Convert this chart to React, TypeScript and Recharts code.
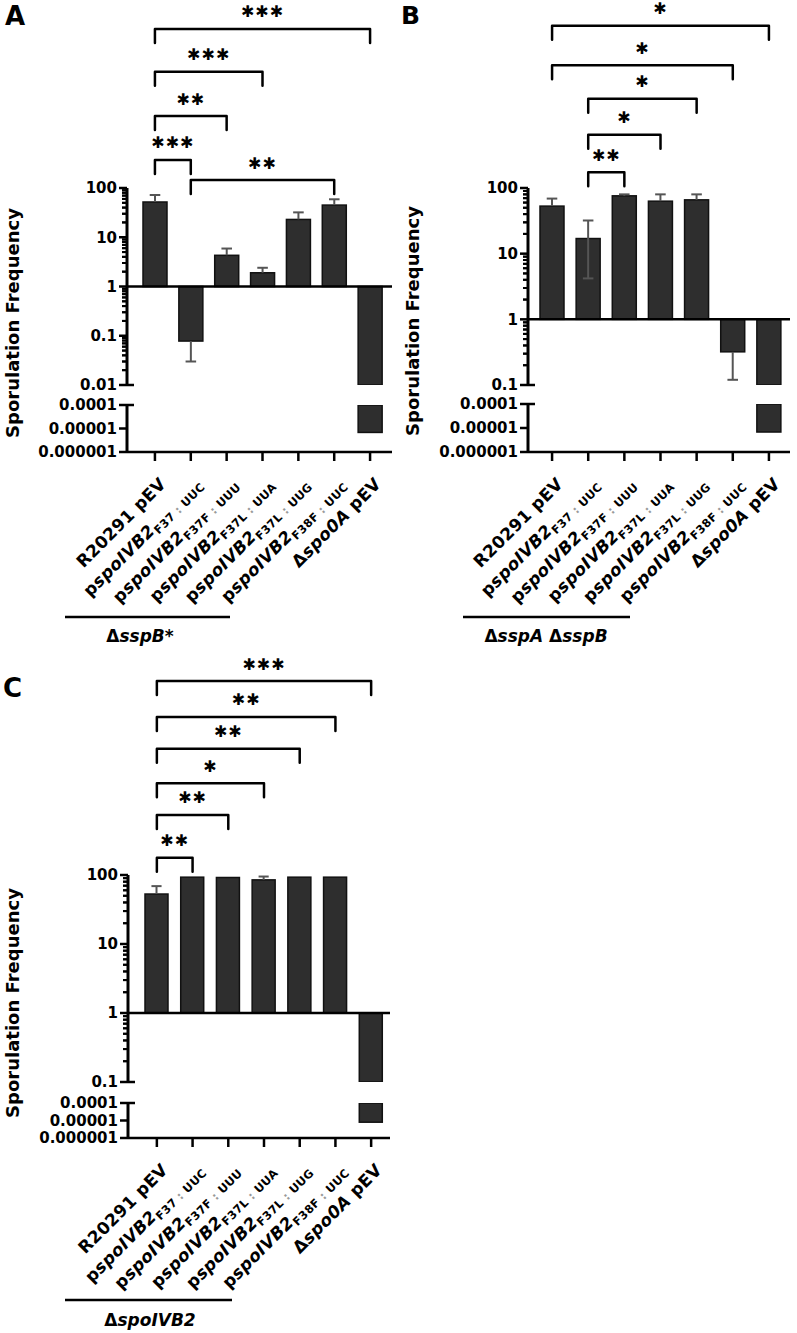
import React from 'react';
import { BarChart, Bar, XAxis, YAxis, ReferenceLine } from 'recharts';

const FONT = "'DejaVu Sans', 'Open Sans', sans-serif";

// ---- categories / tick labels ----
const categoryKeys = ['wt', 'f37uuc', 'f37fuuu', 'f37luua', 'f37luug', 'f38fuuc', 'spo0a'];
const labelPlain = ['R20291 pEV', 'p', 'p', 'p', 'p', 'p', 'Δ'];
const labelItalic = ['', 'spoIVB2', 'spoIVB2', 'spoIVB2', 'spoIVB2', 'spoIVB2', 'spo0A'];
const labelSubVariant = ['', 'F37', 'F37F', 'F37L', 'F37L', 'F38F', ''];
const labelSubCodon = ['', 'UUC', 'UUU', 'UUA', 'UUG', 'UUC', ''];
const labelSuffix = ['', '', '', '', '', '', ' pEV'];

// ---- series values (sporulation frequency) ----
const valuesA = [52, 0.078, 4.3, 1.9, 23, 45, 0.0000068];
const errHighA: (number | null)[] = [72, null, 5.9, 2.4, 32, 59, null];
const errLowA: (number | null)[] = [null, 0.03, null, null, null, null, null];

const valuesB = [53, 17, 76, 63, 66, 0.32, 0.0000068];
const errHighB: (number | null)[] = [69, 32, 80, 80, 80, null, null];
const errLowB: (number | null)[] = [null, 4.2, null, null, null, 0.12, null];

const valuesC = [53, 93, 92, 85, 93, 93, 0.000008];
const errHighC: (number | null)[] = [69, null, null, 95, null, null, null];
const errLowC: (number | null)[] = [null, null, null, null, null, null, null];

// ---- y ticks ----
const upperTicksA = [100, 10, 1, 0.1, 0.01];
const upperTickLabelsA = ['100', '10', '1', '0.1', '0.01'];
const upperTicksBC = [100, 10, 1, 0.1];
const upperTickLabelsBC = ['100', '10', '1', '0.1'];
const lowerTicks = [0.0001, 0.00001, 0.000001];
const lowerTickLabels = ['0.0001', '0.00001', '0.000001'];
const minorMultipliers = [2, 3, 4, 5, 6, 7, 8, 9];

// ---- significance brackets (level = log10 of frequency position) ----
type Bracket = { from: number; to: number; level: number; stars: string };
const bracketsA: Bracket[] = [
  { from: 0, to: 6, level: 5.23, stars: '***' },
  { from: 0, to: 3, level: 4.36, stars: '***' },
  { from: 0, to: 2, level: 3.46, stars: '**' },
  { from: 0, to: 1, level: 2.57, stars: '***' },
  { from: 1, to: 5, level: 2.16, stars: '**' },
];
const bracketsB: Bracket[] = [
  { from: 0, to: 6, level: 4.47, stars: '*' },
  { from: 0, to: 5, level: 3.87, stars: '*' },
  { from: 1, to: 4, level: 3.36, stars: '*' },
  { from: 1, to: 3, level: 2.81, stars: '*' },
  { from: 1, to: 2, level: 2.24, stars: '**' },
];
const bracketsC: Bracket[] = [
  { from: 0, to: 6, level: 4.81, stars: '***' },
  { from: 0, to: 5, level: 4.29, stars: '**' },
  { from: 0, to: 4, level: 3.83, stars: '**' },
  { from: 0, to: 3, level: 3.33, stars: '*' },
  { from: 0, to: 2, level: 2.87, stars: '**' },
  { from: 0, to: 1, level: 2.25, stars: '**' },
];

type Layout = {
  left: number; width: number; yAxisWidth: number; rightMargin: number;
  padL: number; padR: number; upperChartTop: number; upperPlotTop: number;
  upperPlotBottom: number; lowerPlotTop: number; lowerPlotBottom: number; barSize: number;
};

const layoutA: Layout = { left: 0, width: 400, yAxisWidth: 127, rightMargin: 8, padL: 10, padR: 4, upperChartTop: 0, upperPlotTop: 188, upperPlotBottom: 385, lowerPlotTop: 405, lowerPlotBottom: 452, barSize: 24 };
const layoutB: Layout = { left: 400, width: 397, yAxisWidth: 128, rightMargin: 7, padL: 6, padR: 3, upperChartTop: 0, upperPlotTop: 188, upperPlotBottom: 385, lowerPlotTop: 404, lowerPlotBottom: 452, barSize: 24 };
const layoutC: Layout = { left: 0, width: 400, yAxisWidth: 128, rightMargin: 10, padL: 11, padR: 1, upperChartTop: 640, upperPlotTop: 875, upperPlotBottom: 1082, lowerPlotTop: 1103, lowerPlotBottom: 1138, barSize: 23 };

const XAXIS_H = 165;
const TICK_SIZE = 8;
const TICK_MARGIN = 3;

const BarShape = (p: any) => {
  const { x, y, width, height } = p;
  if (!height || !isFinite(height)) return <g />;
  const top = Math.min(y, y + height);
  const h = Math.abs(height);
  return <rect x={x} y={top} width={width} height={h} fill="#2e2e2e" stroke="#111" strokeWidth={1.5} />;
};

const ErrShape = (p: any) => {
  const { x, y, width, height, payload } = p;
  if (!payload || (!payload.hasHi && !payload.hasLo)) return <g />;
  const cx = x + width / 2;
  const top = Math.min(y, y + height);
  const bot = Math.max(y, y + height);
  const cw = width * 0.22;
  return (
    <g stroke="#555" strokeWidth={2} fill="none">
      <line x1={cx} x2={cx} y1={top} y2={bot} />
      {payload.hasHi && <line x1={cx - cw} x2={cx + cw} y1={top} y2={top} />}
      {payload.hasLo && <line x1={cx - cw} x2={cx + cw} y1={bot} y2={bot} />}
    </g>
  );
};

const makeBracketShape = (stars: string) => (p: any) => {
  const { x1, y1, x2, y2 } = p;
  const drop = 14;
  return (
    <g>
      <path d={`M${x1},${y1 + drop}L${x1},${y1}L${x2},${y2}L${x2},${y2 + drop}`} fill="none" stroke="#000" strokeWidth={2.5} strokeLinejoin="round" strokeLinecap="round" />
      <text x={(x1 + x2) / 2} y={y1 - 17} textAnchor="middle" dominantBaseline="central" fontFamily={FONT} fontWeight="bold" fontSize={16} fill="#000" letterSpacing={1}>
        {stars.replace(/\*/g, '✱')}
      </text>
    </g>
  );
};

// Minor log ticks: anchored at the first band start, shifted back by the axis padding to sit on the y-axis
const makeMinorShape = (padL: number) => (p: any) => {
  const { x1, y1 } = p;
  const ax = Number(x1) - padL;
  return <path d={`M${ax - 5},${y1}H${ax}`} stroke="#000" strokeWidth={2} fill="none" />;
};

const makeYTick = (labelMap: Map<number, string>, breakEnd: number) => (p: any) => {
  const { x, y, payload } = p;
  const v = payload.value as number;
  const ax = x + TICK_SIZE + TICK_MARGIN;
  const isMajor = Math.abs(v - Math.round(v)) < 1e-6;
  if (!isMajor) {
    return (
      <g>
        <path d={`M${ax - 5},${y}H${ax}`} stroke="#000" strokeWidth={2} fill="none" />
      </g>
    );
  }
  const isBreak = Math.abs(v - breakEnd) < 1e-6;
  return (
    <g>
      <line x1={ax - TICK_SIZE} x2={isBreak ? ax + 7 : ax} y1={y} y2={y} stroke="#000" strokeWidth={2.5} />
      <text x={ax - 10} y={y} dy="0.36em" textAnchor="end" fontFamily={FONT} fontWeight="bold" fontSize={15} fill="#000">
        {labelMap.get(Math.round(v))}
      </text>
    </g>
  );
};

const XTick = (p: any) => {
  const { x, y, payload } = p;
  const i = categoryKeys.indexOf(payload.value);
  if (i < 0) return <g />;
  return (
    <g transform={`translate(${x + 12},${y + 22}) rotate(-45)`}>
      <text textAnchor="end" fontFamily={FONT} fontWeight="bold" fontSize={17} fill="#000" letterSpacing={0.3}>
        {labelPlain[i]}
        {labelItalic[i] && <tspan fontStyle="italic">{labelItalic[i]}</tspan>}
        {labelSubVariant[i] && (
          <tspan fontSize={11.5} dy={4}>
            {labelSubVariant[i]}
            <tspan fill="#999"> : </tspan>
            {labelSubCodon[i]}
          </tspan>
        )}
        {labelSuffix[i]}
      </text>
    </g>
  );
};

type PanelProps = {
  L: Layout; values: number[]; errHigh: (number | null)[]; errLow: (number | null)[];
  brackets: Bracket[]; upperTicks: number[]; upperTickLabels: string[];
};

function Panel({ L, values, errHigh, errLow, brackets, upperTicks, upperTickLabels }: PanelProps) {
  const upperExp = upperTicks.map((t) => Math.round(Math.log10(t)));
  const lo = Math.min(...upperExp);
  const hi = Math.max(...upperExp);
  const minor: number[] = [];
  for (let e = lo; e < hi; e++) minorMultipliers.forEach((m) => minor.push(Number((e + Math.log10(m)).toFixed(4))));
  const upperMap = new Map<number, string>(upperExp.map((e, i) => [e, upperTickLabels[i]]));
  const lowerExp = lowerTicks.map((t) => Math.round(Math.log10(t)));
  const lLo = Math.min(...lowerExp);
  const lHi = Math.max(...lowerExp);
  const lowerMap = new Map<number, string>(lowerExp.map((e, i) => [e, lowerTickLabels[i]]));

  const upperRows = categoryKeys.map((key, i) => {
    const lv = Math.log10(values[i]);
    const eh = errHigh[i];
    const el = errLow[i];
    const has = eh != null || el != null;
    return {
      key,
      bar: [0, Math.max(lv, lo)],
      err: has ? [Math.log10(el ?? values[i]), Math.log10(eh ?? values[i])] : [0, 0],
      hasHi: eh != null,
      hasLo: el != null,
    };
  });
  const lowerRows = categoryKeys.map((key, i) => {
    const lv = Math.log10(values[i]);
    return { key, bar: lv < lHi ? [lHi, Math.max(lv, lLo)] : [lHi, lHi] };
  });

  const upperTop = L.upperChartTop;
  const upperH = L.upperPlotBottom + 10 - upperTop;
  const lowerTop = L.lowerPlotTop - 12;
  const lowerH = 12 + (L.lowerPlotBottom - L.lowerPlotTop) + XAXIS_H;
  const pad = { left: L.padL, right: L.padR };
  const minorShape = makeMinorShape(L.padL);

  return (
    <>
      <div style={{ position: 'absolute', left: L.left, top: upperTop }}>
        <BarChart width={L.width} height={upperH} data={upperRows}
          margin={{ top: L.upperPlotTop - upperTop, right: L.rightMargin, bottom: 10, left: 0 }}>
          <XAxis xAxisId="main" dataKey="key" type="category" hide padding={pad} />
          <XAxis xAxisId="err" dataKey="key" type="category" hide padding={pad} />
          <YAxis type="number" domain={[lo, hi]} ticks={[...upperExp, ...minor]} interval={0}
            allowDataOverflow allowDecimals width={L.yAxisWidth} tickSize={TICK_SIZE} tickMargin={TICK_MARGIN}
            tickLine={false} axisLine={{ stroke: '#000', strokeWidth: 3 }}
            tick={makeYTick(upperMap, lo)} />
          <Bar xAxisId="main" dataKey="bar" barSize={L.barSize} shape={BarShape} isAnimationActive={false} />
          <Bar xAxisId="err" dataKey="err" barSize={L.barSize} shape={ErrShape} isAnimationActive={false} />
          <ReferenceLine xAxisId="main" y={0} stroke="#000" strokeWidth={2.5} />
          {brackets.map((b, k) => (
            <ReferenceLine key={k} xAxisId="main" ifOverflow="visible"
              segment={[{ x: categoryKeys[b.from], y: b.level }, { x: categoryKeys[b.to], y: b.level }]}
              shape={makeBracketShape(b.stars)} />
          ))}
          {minor.map((m, k) => (
            <ReferenceLine key={`mn${k}`} xAxisId="main" ifOverflow="visible" position="start"
              segment={[{ x: categoryKeys[0], y: m }, { x: categoryKeys[0], y: m }]}
              shape={minorShape} />
          ))}
        </BarChart>
      </div>
      <div style={{ position: 'absolute', left: L.left, top: lowerTop }}>
        <BarChart width={L.width} height={lowerH} data={lowerRows}
          margin={{ top: 12, right: L.rightMargin, bottom: 0, left: 0 }}>
          <XAxis xAxisId="main" dataKey="key" type="category" padding={pad} height={XAXIS_H}
            interval={0} tickSize={9} tickMargin={2}
            axisLine={{ stroke: '#000', strokeWidth: 2.5 }}
            tickLine={{ stroke: '#000', strokeWidth: 2.5 }} tick={XTick} />
          <YAxis type="number" domain={[lLo, lHi]} ticks={lowerExp} interval={0} allowDataOverflow
            width={L.yAxisWidth} tickSize={TICK_SIZE} tickMargin={TICK_MARGIN} tickLine={false}
            axisLine={{ stroke: '#000', strokeWidth: 3 }} tick={makeYTick(lowerMap, lHi)} />
          <Bar xAxisId="main" dataKey="bar" barSize={L.barSize} shape={BarShape} isAnimationActive={false} />
        </BarChart>
      </div>
    </>
  );
}

const groupLabel = (parts: { t: string; i?: boolean }[]) =>
  parts.map((p, k) => (
    <tspan key={k} fontStyle={p.i ? 'italic' : 'normal'}>{p.t}</tspan>
  ));

export default function App() {
  const txt = { fontFamily: FONT, fontWeight: 'bold' as const, fill: '#000' };
  return (
    <div style={{ position: 'absolute', left: 0, top: 0, width: 797, height: 1333, overflow: 'hidden', background: '#fff' }}>
      <Panel L={layoutA} values={valuesA} errHigh={errHighA} errLow={errLowA} brackets={bracketsA}
        upperTicks={upperTicksA} upperTickLabels={upperTickLabelsA} />
      <Panel L={layoutB} values={valuesB} errHigh={errHighB} errLow={errLowB} brackets={bracketsB}
        upperTicks={upperTicksBC} upperTickLabels={upperTickLabelsBC} />
      <Panel L={layoutC} values={valuesC} errHigh={errHighC} errLow={errLowC} brackets={bracketsC}
        upperTicks={upperTicksBC} upperTickLabels={upperTickLabelsBC} />
      <svg width={797} height={1333} style={{ position: 'absolute', left: 0, top: 0, pointerEvents: 'none' }}>
        <text x={5} y={25} fontSize={26} {...txt}>A</text>
        <text x={401} y={24} fontSize={25} {...txt}>B</text>
        <text x={3} y={697} fontSize={26} {...txt}>C</text>
        <text transform="translate(19,323) rotate(-90)" textAnchor="middle" fontSize={18} {...txt}>Sporulation Frequency</text>
        <text transform="translate(419,321) rotate(-90)" textAnchor="middle" fontSize={18} {...txt}>Sporulation Frequency</text>
        <text transform="translate(19,1003) rotate(-90)" textAnchor="middle" fontSize={18} {...txt}>Sporulation Frequency</text>
        <line x1={65} x2={230} y1={617} y2={617} stroke="#000" strokeWidth={2.5} />
        <text x={140} y={642} textAnchor="middle" fontSize={17} {...txt}>{groupLabel([{ t: 'Δ' }, { t: 'sspB', i: true }, { t: '*' }])}</text>
        <line x1={463} x2={630} y1={617} y2={617} stroke="#000" strokeWidth={2.5} />
        <text x={546} y={642} textAnchor="middle" fontSize={17} {...txt}>{groupLabel([{ t: 'Δ' }, { t: 'sspA', i: true }, { t: ' Δ' }, { t: 'sspB', i: true }])}</text>
        <line x1={65} x2={232} y1={1300} y2={1300} stroke="#000" strokeWidth={2.5} />
        <text x={150} y={1326} textAnchor="middle" fontSize={17} {...txt}>{groupLabel([{ t: 'Δ' }, { t: 'spoIVB2', i: true }])}</text>
      </svg>
    </div>
  );
}
